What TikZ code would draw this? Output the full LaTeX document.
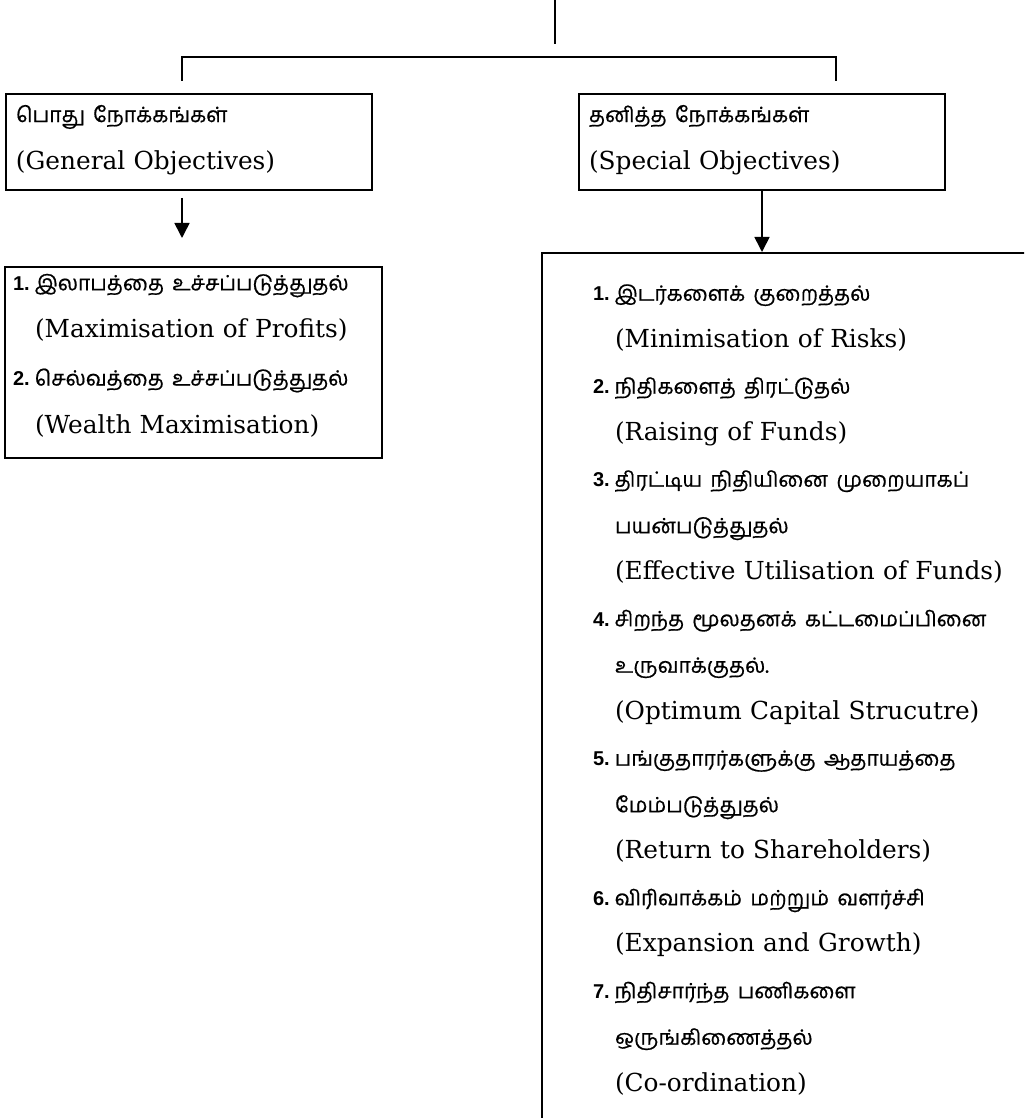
\documentclass[tikz,border=0pt]{standalone}
\usepackage{fontspec}
\setmainfont{DejaVu Serif}
\newfontfamily\tamilfont[Script=Tamil, FakeBold=0.6]{Hind Madurai}
\newfontfamily\numfont{Liberation Sans}
\usetikzlibrary{arrows.meta, positioning, calc}
\newcommand{\ta}[1]{{\tamilfont\fontsize{10.5}{10.5}\selectfont #1}}
\newcommand{\itemno}[1]{{\numfont\fontsize{10}{10}\selectfont\bfseries #1.}\hspace{2.5pt}}
\newcommand{\indentno}{\hspace*{11pt}}
\newcommand{\lastdepth}[1]{\rule[-#1]{0pt}{#1}}
\tikzstyle{head} = [rectangle, draw=black, line width=1pt, anchor=north west, minimum width=183pt, minimum height=48pt, inner xsep=5pt, text width=173pt, align=left, font=\fontsize{12.4}{23.5}\selectfont]
\tikzstyle{list} = [rectangle, draw=black, line width=1pt, anchor=north west, align=left, font=\fontsize{12.4}{23.5}\selectfont]
\tikzstyle{arrow} = [line width=0.8pt, -{Triangle[length=7.5pt, width=7.5pt]}]
\tikzstyle{link} = [line width=0.7pt]

\begin{document}
\begin{tikzpicture}[x=0.5pt, y=-0.5pt]
    \useasboundingbox (0,0) rectangle (1024,1118);
    \clip (0,0) rectangle (1024,1118);

    % Objective Layer
    \node[head] (gen) at (5,93) {\ta{பொது நோக்கங்கள்}\\(General Objectives)\lastdepth{5pt}};
    \node[head] (spec) at (578,93) {\ta{தனித்த நோக்கங்கள்}\\(Special Objectives)\lastdepth{5pt}};

    % List Layer
    \node[list, minimum width=188.5pt, minimum height=95.5pt, inner xsep=4pt, inner ysep=1pt, text width=180.5pt, font=\fontsize{12.4}{23.8}\selectfont] (genlist) at (4,266) {%
        \itemno{1}\ta{இலாபத்தை உச்சப்படுத்துதல்}\\
        \indentno(Maximisation of Profits)\\
        \itemno{2}\ta{செல்வத்தை உச்சப்படுத்துதல்}\\
        \indentno(Wealth Maximisation)\lastdepth{9pt}};
    \node[list, minimum width=279.5pt, minimum height=458pt, inner xsep=25.5pt, text width=228.5pt, font=\fontsize{12.4}{23.25}\selectfont] (speclist) at (541,252) {%
        \itemno{1}\ta{இடர்களைக் குறைத்தல்}\\
        \indentno(Minimisation of Risks)\\
        \itemno{2}\ta{நிதிகளைத் திரட்டுதல்}\\
        \indentno(Raising of Funds)\\
        \itemno{3}\ta{திரட்டிய நிதியினை முறையாகப்}\\
        \indentno\ta{பயன்படுத்துதல்}\\
        \indentno(Effective Utilisation of Funds)\\
        \itemno{4}\ta{சிறந்த மூலதனக் கட்டமைப்பினை}\\
        \indentno\ta{உருவாக்குதல்.}\\
        \indentno(Optimum Capital Strucutre)\\
        \itemno{5}\ta{பங்குதாரர்களுக்கு ஆதாயத்தை}\\
        \indentno\ta{மேம்படுத்துதல்}\\
        \indentno(Return to Shareholders)\\
        \itemno{6}\ta{விரிவாக்கம் மற்றும் வளர்ச்சி}\\
        \indentno(Expansion and Growth)\\
        \itemno{7}\ta{நிதிசார்ந்த பணிகளை}\\
        \indentno\ta{ஒருங்கிணைத்தல்}\\
        \indentno(Co-ordination)\\
        \mbox{}};

    % Connections
    \coordinate (root) at (555,0);
    \coordinate (rootend) at (555,44);
    \coordinate (bar) at (555,57);
    \coordinate (gendrop) at (182,81);
    \coordinate (specdrop) at (836,81);
    \draw[link] (root) -- (rootend);
    \draw[link] (gendrop) |- (bar) -| (specdrop);
    \draw[arrow] ($(gendrop |- gen.south)+(0,7)$) -- ($(gendrop |- genlist.north)+(0,-28)$);
    \draw[arrow] (spec) -- (spec |- speclist.north);

\end{tikzpicture}
\end{document}
